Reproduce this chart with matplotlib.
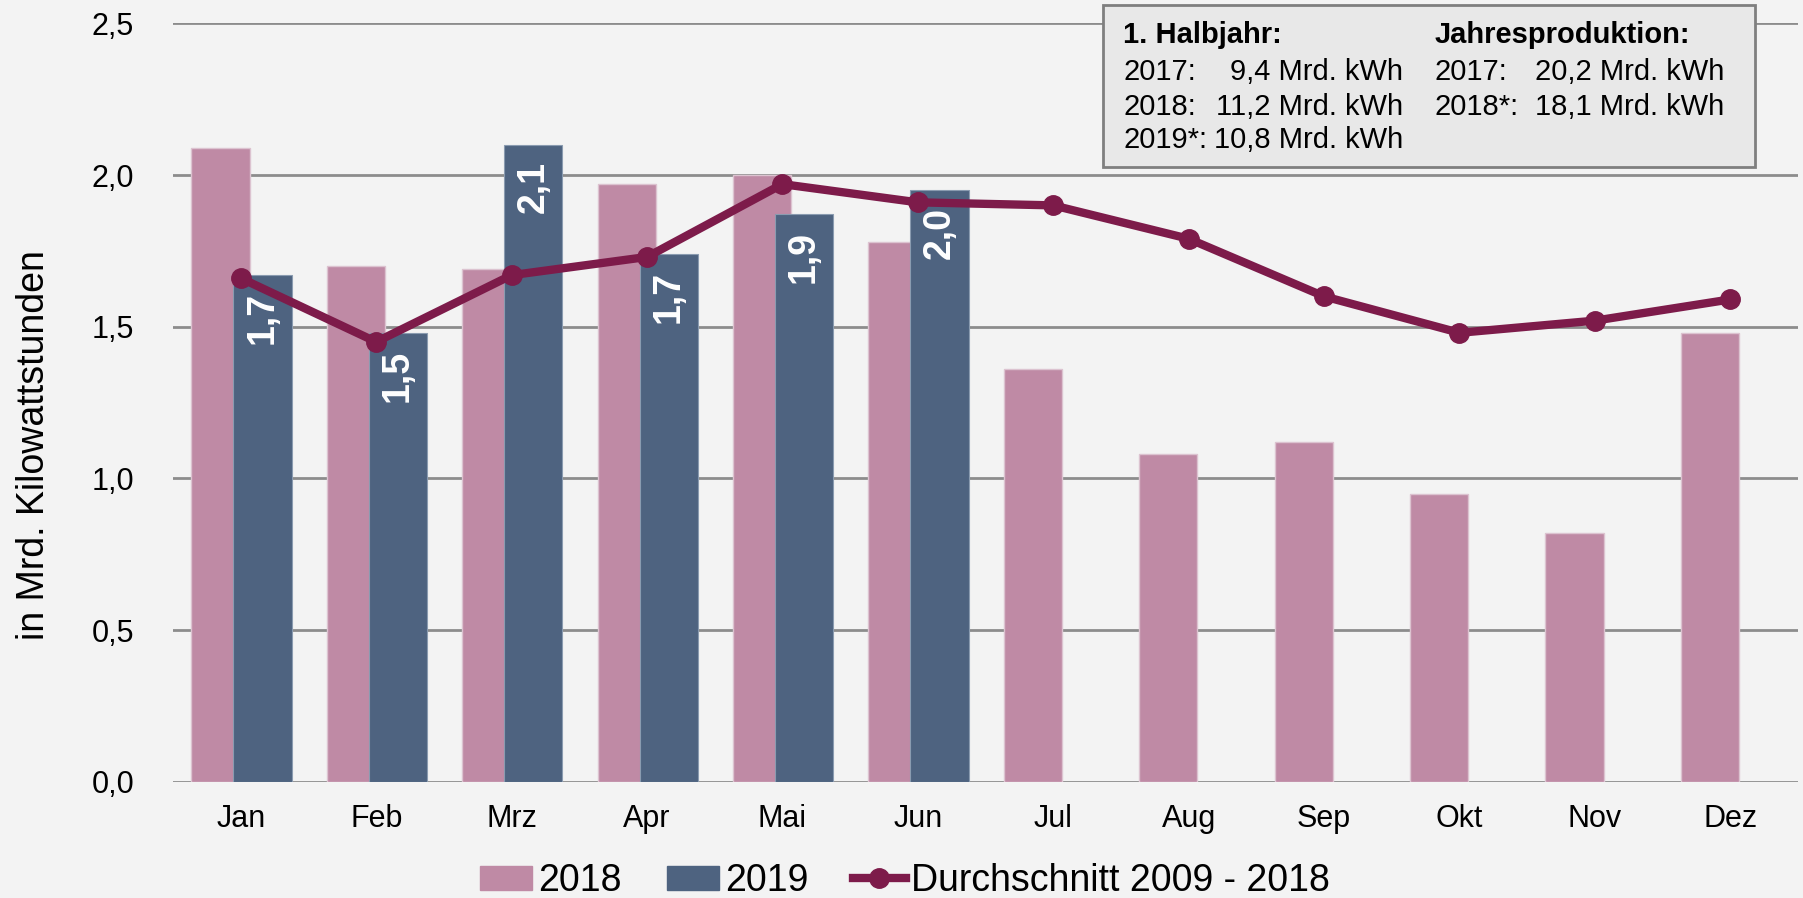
import matplotlib
matplotlib.use('Agg')
import matplotlib.pyplot as plt
from matplotlib.patches import Rectangle
from matplotlib.lines import Line2D
from matplotlib.patches import Patch
import numpy as np

plt.rcParams['font.family'] = ['Liberation Sans', 'DejaVu Sans']

# data (Mrd. kWh)
months = ['Jan', 'Feb', 'Mrz', 'Apr', 'Mai', 'Jun', 'Jul', 'Aug', 'Sep', 'Okt', 'Nov', 'Dez']
prod_2018 = [2.09, 1.70, 1.69, 1.97, 2.00, 1.78, 1.36, 1.08, 1.12, 0.95, 0.82, 1.48]
prod_2019 = [1.67, 1.48, 2.10, 1.74, 1.87, 1.95]
labels_2019 = ['1,7', '1,5', '2,1', '1,7', '1,9', '2,0']
avg_0918 = [1.66, 1.45, 1.67, 1.73, 1.97, 1.91, 1.90, 1.79, 1.60, 1.48, 1.52, 1.59]
yticks = [0, 0.5, 1.0, 1.5, 2.0, 2.5]
ytick_labels = ['0,0', '0,5', '1,0', '1,5', '2,0', '2,5']

c_2018 = '#bf8aa5'
c_2019 = '#4e6380'
c_avg = '#7d1b4a'
bg = '#f3f3f3'

fig = plt.figure(figsize=(18.03, 8.98), dpi=100, facecolor=bg)
ax = fig.add_axes([0.096, 0.1294, 0.9012, 0.8446])
ax.set_facecolor(bg)

x = np.arange(len(months))
x19 = np.arange(len(prod_2019))
ax.bar(x - 0.15, prod_2018, width=0.43, color=c_2018, edgecolor='#dcc3d0', linewidth=1, zorder=2)
ax.bar(x19 + 0.16, prod_2019, width=0.43, color=c_2019, edgecolor='#8a9bb0', linewidth=0.8, zorder=3)
ax.plot(x, avg_0918, color=c_avg, linewidth=6, marker='o', markersize=14, zorder=4)

# labels inside the 2019 bars
for xi, v, lab in zip(x19, prod_2019, labels_2019):
    ax.annotate(lab, (xi + 0.16, v), xytext=(0, -12), textcoords='offset points',
                rotation=90, ha='center', va='top', color='white',
                fontsize=27, fontweight='bold', zorder=6)

ax.set_xlim(-0.5, 11.5)
ax.set_ylim(0, 2.5)
ax.set_yticks(yticks)
ax.set_yticklabels(ytick_labels)
ax.set_xticks(x)
ax.set_xticklabels(months)
ax.tick_params(axis='both', length=0, labelsize=22)
ax.tick_params(axis='y', pad=28)
ax.tick_params(axis='x', pad=16)
ax.grid(axis='y', color='#8c8c8c', linewidth=2, zorder=1)
ax.set_axisbelow(True)
for s in ax.spines.values():
    s.set_visible(False)

fig.text(0.019, 0.504, 'in Mrd. Kilowattstunden', rotation=90, ha='center', va='center', fontsize=27)

# info box
ax.add_patch(Rectangle((0.5725, 0.811), 0.401, 0.2131, transform=ax.transAxes,
                       facecolor='#e8e8e8', edgecolor='#7f7f7f', linewidth=2,
                       clip_on=False, zorder=7))
rows_y = [0.9736, 0.9252, 0.8793, 0.8358]
fs_box = 21
ax.text(0.5848, rows_y[0], '1. Halbjahr:', transform=ax.transAxes, fontsize=fs_box,
        fontweight='bold', va='baseline', zorder=8)
ax.text(0.7766, rows_y[0], 'Jahresproduktion:', transform=ax.transAxes, fontsize=fs_box,
        fontweight='bold', va='baseline', zorder=8)
half_years = ['2017:', '2018:', '2019*:']
half_vals = ['9,4 Mrd. kWh', '11,2 Mrd. kWh', '10,8 Mrd. kWh']
year_names = ['2017:', '2018*:']
year_vals = ['20,2 Mrd. kWh', '18,1 Mrd. kWh']
for i in range(3):
    ax.text(0.5848, rows_y[i + 1], half_years[i], transform=ax.transAxes, fontsize=fs_box,
            va='baseline', zorder=8)
    ax.text(0.7571, rows_y[i + 1], half_vals[i], transform=ax.transAxes, fontsize=fs_box,
            va='baseline', ha='right', zorder=8)
for i in range(2):
    ax.text(0.7766, rows_y[i + 1], year_names[i], transform=ax.transAxes, fontsize=fs_box,
            va='baseline', zorder=8)
    ax.text(0.9545, rows_y[i + 1], year_vals[i], transform=ax.transAxes, fontsize=fs_box,
            va='baseline', ha='right', zorder=8)

handles = [Patch(color=c_2018), Patch(color=c_2019),
           Line2D([], [], color=c_avg, linewidth=6, marker='o', markersize=14)]
fig.legend(handles, ['2018', '2019', 'Durchschnitt 2009 - 2018'], loc='center',
           bbox_to_anchor=(905 / 1803, 17 / 898), ncol=3, frameon=False, fontsize=27,
           handlelength=1.4, handletextpad=0.15, columnspacing=1.2, handleheight=0.6)

fig.savefig('out.png', dpi=100, facecolor=bg)
